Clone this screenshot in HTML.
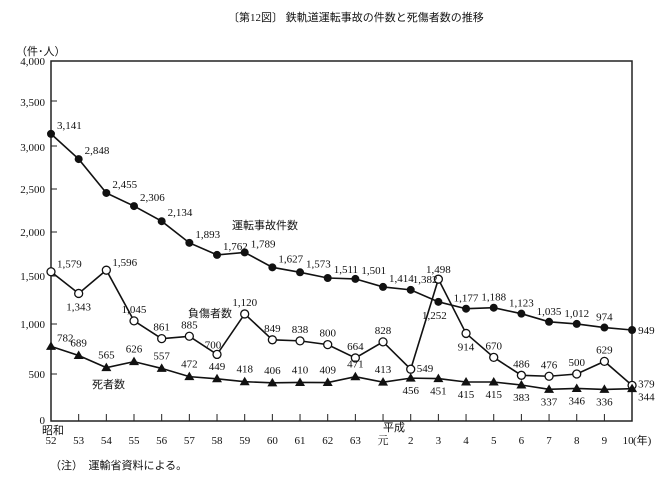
<!DOCTYPE html>
<html><head><meta charset="utf-8"><style>
body{margin:0;background:#fff}
svg{display:block}
text{font-family:"Liberation Serif","Noto Serif CJK SC",serif;font-size:11px;fill:#111}
.j{font-family:"Liberation Serif","Noto Sans CJK JP",sans-serif}
</style></head><body>
<svg width="671" height="487" viewBox="0 0 671 487" xmlns="http://www.w3.org/2000/svg">
<text class="j" x="228" y="21" font-size="11">〔第12図〕 鉄軌道運転事故の件数と死傷者数の推移</text>
<text class="j" x="16" y="55" font-size="11">（件･人）</text>
<rect x="51" y="61" width="581" height="360" fill="none" stroke="#222" stroke-width="1.5"/>
<g font-size="11" text-anchor="end">
<text x="45" y="65">4,000</text><text x="45" y="106">3,500</text><text x="45" y="151">3,000</text>
<text x="45" y="193">2,500</text><text x="45" y="236">2,000</text><text x="45" y="280">1,500</text>
<text x="45" y="328">1,000</text><text x="45" y="378">500</text><text x="45" y="424">0</text>
</g>
<g stroke="#222" stroke-width="1">
<line x1="51" y1="101" x2="57" y2="101"/><line x1="51" y1="146" x2="57" y2="146"/><line x1="51" y1="189" x2="57" y2="189"/>
<line x1="51" y1="232" x2="57" y2="232"/><line x1="51" y1="276" x2="57" y2="276"/><line x1="51" y1="324" x2="57" y2="324"/>
<line x1="51" y1="374" x2="57" y2="374"/>
</g>
<g id="ticks" stroke="#222" stroke-width="1"></g>
<g id="xl" font-size="11" text-anchor="middle"></g>
<text class="j" x="42" y="434" font-size="11">昭和</text>
<text class="j" x="394" y="431" font-size="11" text-anchor="middle">平成</text>
<text class="j" x="633" y="444" font-size="11">(年)</text>
<text class="j" x="50" y="469" font-size="11">（注）　運輸省資料による。</text>
<text class="j" x="232" y="229" font-size="11">運転事故件数</text>
<text class="j" x="188" y="317" font-size="11">負傷者数</text>
<text class="j" x="92" y="388" font-size="11">死者数</text>
<g id="plot"></g>
</svg>
<script>
const A=[3141,2848,2455,2306,2134,1893,1762,1789,1627,1573,1511,1501,1414,1382,1252,1177,1188,1123,1035,1012,974,949];
const I=[1579,1343,1596,1045,861,885,700,1120,849,838,800,664,828,549,1498,914,670,486,476,500,629,379];
const D=[782,689,565,626,557,472,449,418,406,410,409,471,413,456,451,415,415,383,337,346,336,344];
const L=['52','53','54','55','56','57','58','59','60','61','62','63','元','2','3','4','5','6','7','8','9','10'];
const X=i=>51+i*27.67;
function Y(v){const p=[[0,421],[500,374],[1000,325],[1500,279],[2000,233],[2500,189],[3000,146],[3500,103],[4000,61]];for(let k=0;k<8;k++){if(v<=p[k+1][0]){const a=p[k],b=p[k+1];return a[1]+(v-a[0])/(b[0]-a[0])*(b[1]-a[1]);}}return 61;}
const f=n=>n.toLocaleString('en-US');
const ns='http://www.w3.org/2000/svg';
const P=document.getElementById('plot'),T=document.getElementById('ticks'),XL=document.getElementById('xl');
function el(t,a,par,txt){const e=document.createElementNS(ns,t);for(const k in a)e.setAttribute(k,a[k]);if(txt!=null)e.textContent=txt;(par||P).appendChild(e);return e;}
L.forEach((l,i)=>{if(i>0&&i<21)el('line',{x1:X(i),y1:421,x2:X(i),y2:414},T);el('text',{x:X(i),y:444},XL,i==21?'10':l);});
XL.lastChild.setAttribute('x',X(21)-4);
function line(arr){el('polyline',{points:arr.map((v,i)=>X(i)+','+Y(v)).join(' '),fill:'none',stroke:'#111','stroke-width':1.6});}
line(A);line(I);line(D);
A.forEach((v,i)=>el('circle',{cx:X(i),cy:Y(v),r:4,fill:'#111'}));
I.forEach((v,i)=>el('circle',{cx:X(i),cy:Y(v),r:4,fill:'#fff',stroke:'#111','stroke-width':1.3}));
D.forEach((v,i)=>{const x=X(i),y=Y(v);el('polygon',{points:`${x},${y-5} ${x-5},${y+3.5} ${x+5},${y+3.5}`,fill:'#111'});});
A.forEach((v,i)=>{let x=X(i)+6,y=Y(v)-5,a='start';
 if(i==13){x=X(i)+2;y=Y(v)-7;a='start';}
 if(i==14){x=X(i)-4;y=Y(v)+17;a='middle';}
 if(i>=15&&i<=20){x=X(i);y=Y(v)-7;a='middle';}
 if(i==21){x=X(i)+6;y=Y(v)+4;}
 el('text',{x,y,'text-anchor':a},null,f(v));});
I.forEach((v,i)=>{let x=X(i),y=Y(v)-8,a='middle';
 if(i==0){x=X(i)+6;y=Y(v)-4;a='start';}
 if(i==1){y=Y(v)+17;}
 if(i==2){x=X(i)+6;y=Y(v)-4;a='start';}
 if(i==6){x=X(i)-4;y=Y(v)-6;}
 if(i==13){x=X(i)+6;y=Y(v)+3;a='start';}
 if(i==14){y=Y(v)-6;}
 if(i==15){y=Y(v)+17;}
 if(i==21){x=X(i)+6;y=Y(v)+2;a='start';}
 el('text',{x,y,'text-anchor':a},null,f(v));});
D.forEach((v,i)=>{let x=X(i),y=Y(v)-9,a='middle';
 if(i==0){x=X(i)+6;y=Y(v)-5;a='start';}
 if(i>=13){y=Y(v)+16;}
 if(i==21){x=X(i)+6;y=Y(v)+12;a='start';}
 el('text',{x,y,'text-anchor':a},null,f(v));});
</script>
</body></html>
